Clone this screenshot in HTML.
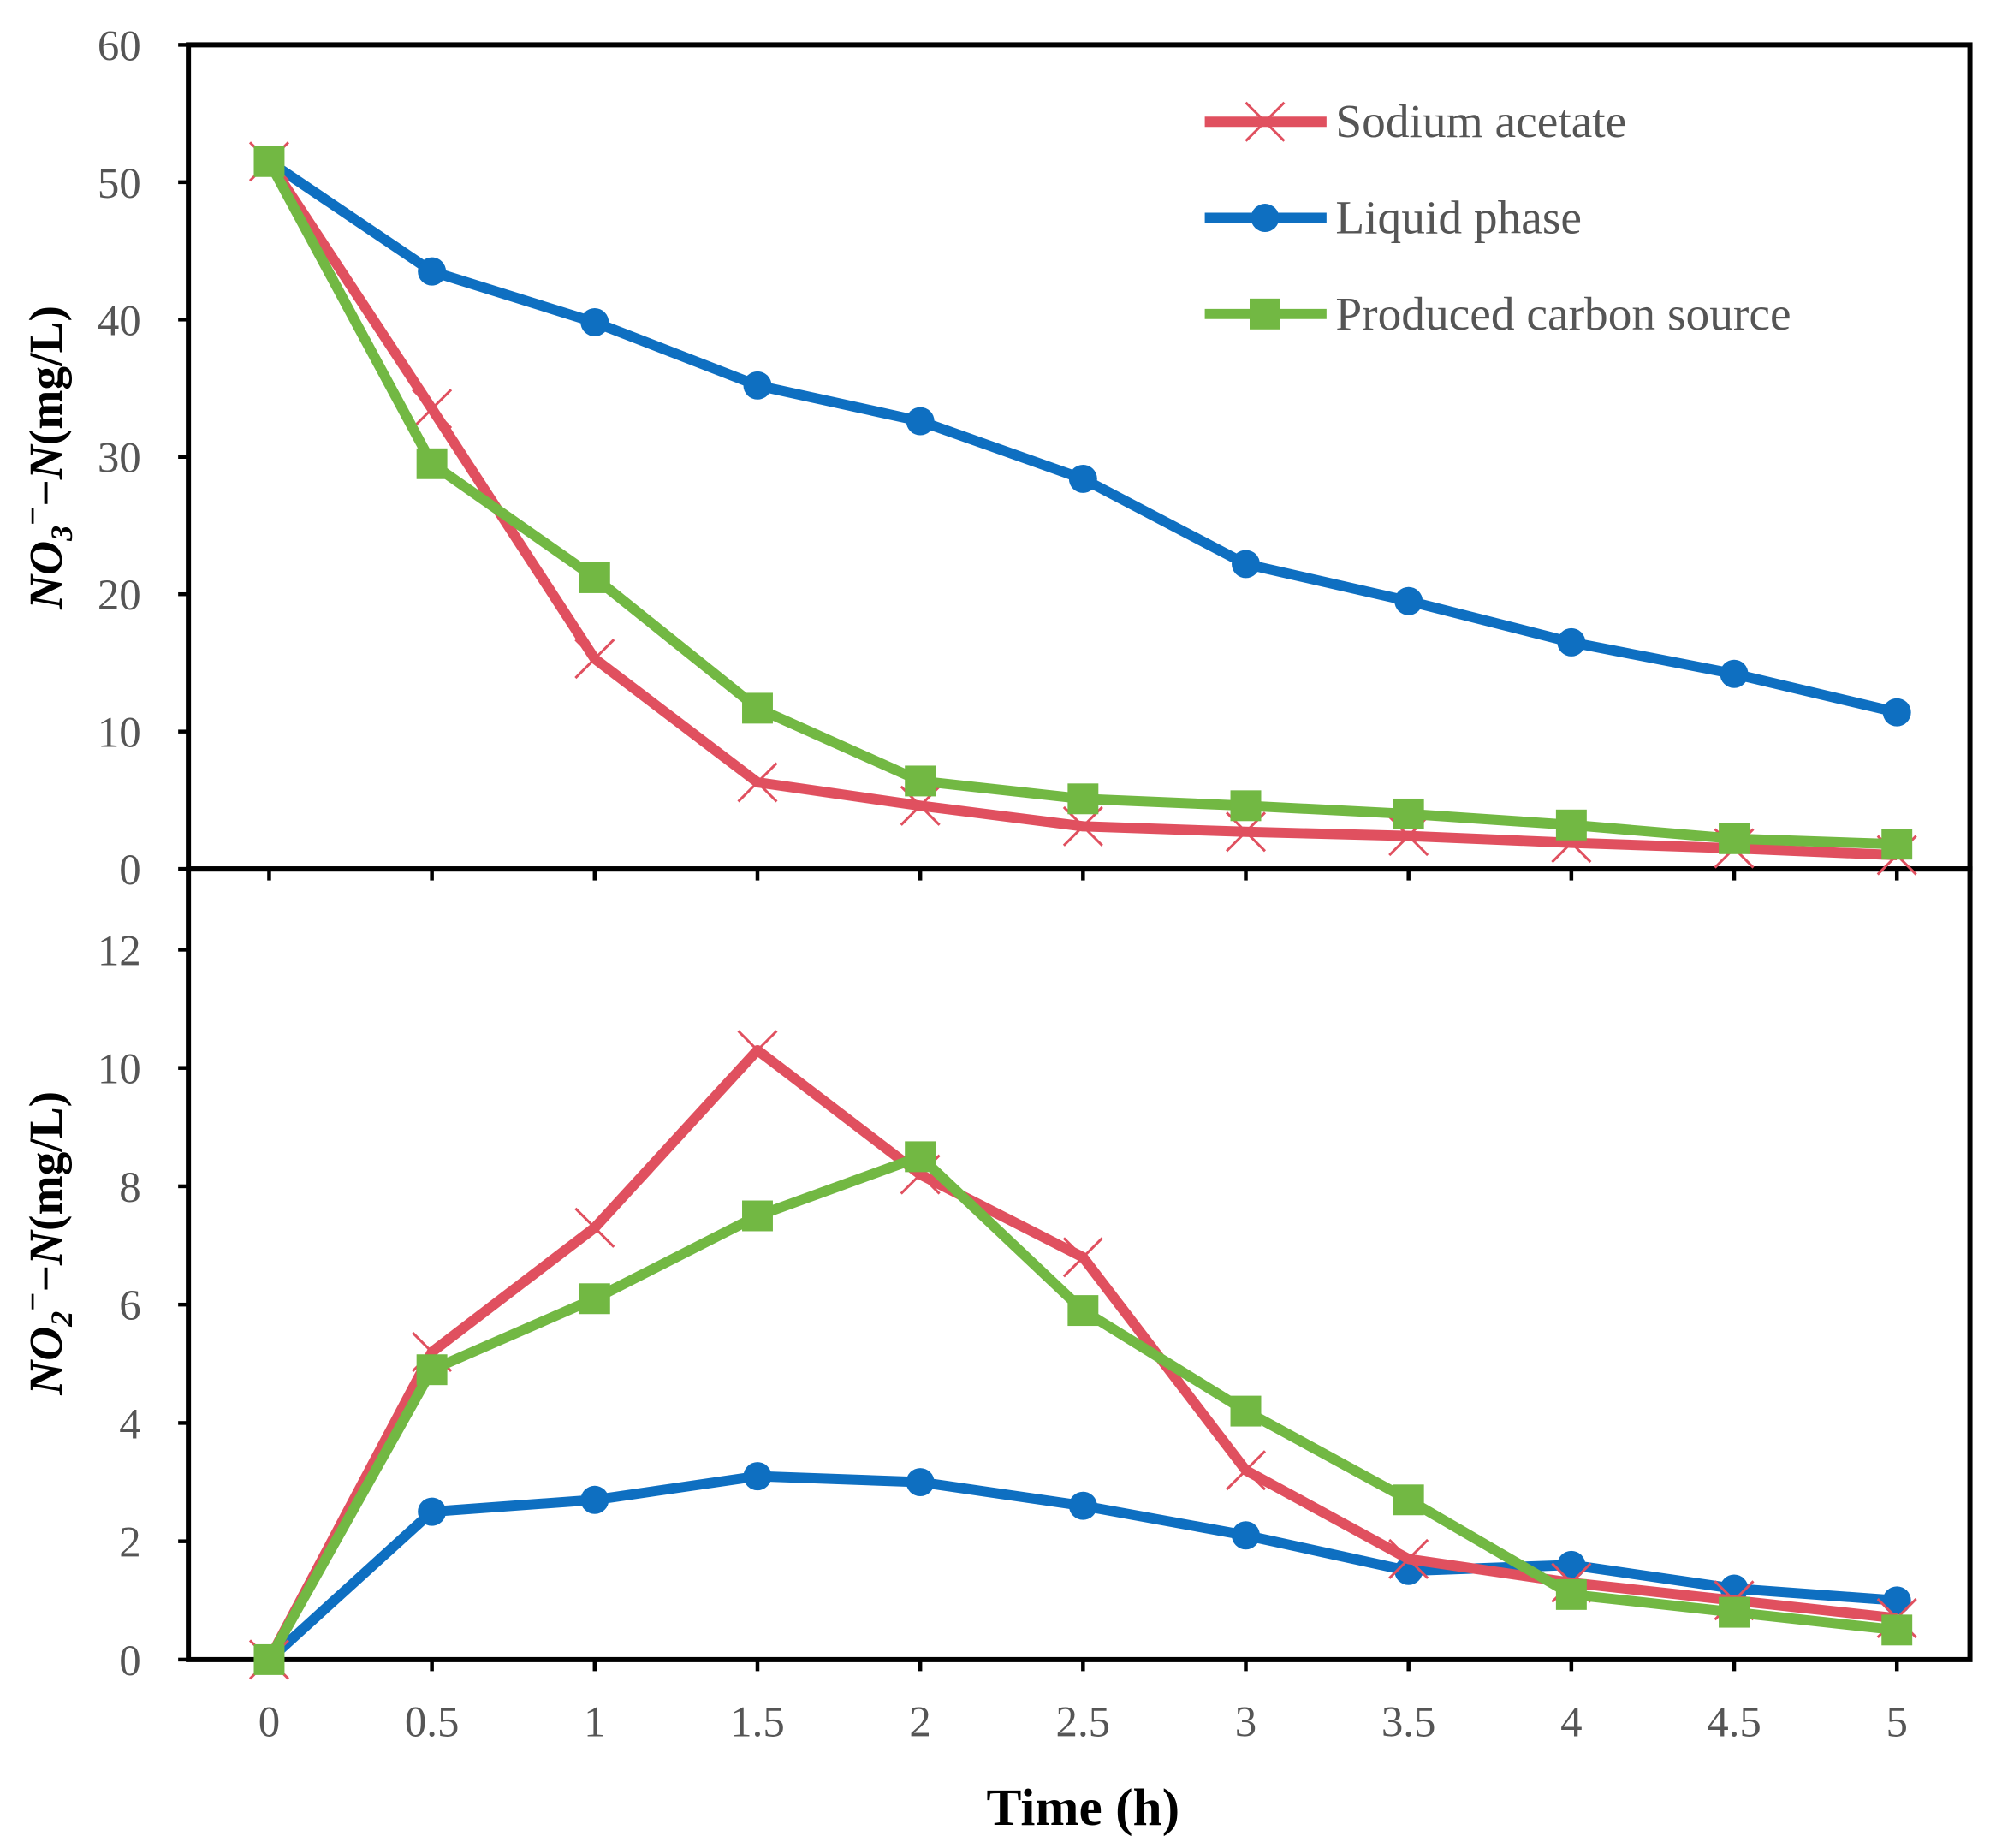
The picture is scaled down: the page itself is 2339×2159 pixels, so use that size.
<!DOCTYPE html>
<html><head><meta charset="utf-8"><style>
html,body{margin:0;padding:0;background:#fff;}
svg{display:block;}
text{font-family:"Liberation Serif",serif;}
</style></head><body>
<svg id="chart" width="2339" height="2159" viewBox="0 0 1562 1442" preserveAspectRatio="none" xmlns="http://www.w3.org/2000/svg"></svg>
<script>
const times=[0,0.5,1,1.5,2,2.5,3,3.5,4,4.5,5];
const xTickLabels=["0","0.5","1","1.5","2","2.5","3","3.5","4","4.5","5"];
const no3Sodium=[51.5,33.5,15.3,6.3,4.6,3.1,2.7,2.4,1.9,1.5,1.0];
const no3Liquid=[51.5,43.5,39.8,35.2,32.6,28.4,22.2,19.5,16.5,14.2,11.4];
const no3Produced=[51.5,29.5,21.2,11.7,6.4,5.1,4.6,4.0,3.2,2.2,1.8];
const no2Sodium=[0,5.2,7.3,10.3,8.2,6.8,3.2,1.7,1.3,1.0,0.7];
const no2Liquid=[0,2.5,2.7,3.1,3.0,2.6,2.1,1.5,1.6,1.2,1.0];
const no2Produced=[0,4.9,6.1,7.5,8.5,5.9,4.2,2.7,1.1,0.8,0.5];
const topTicks=[0,10,20,30,40,50,60];
const bottomTicks=[0,2,4,6,8,10,12];

const NS="http://www.w3.org/2000/svg";
const svg=document.getElementById('chart');
function el(tag,attrs,parent){const e=document.createElementNS(NS,tag);for(const k in attrs)e.setAttribute(k,attrs[k]);(parent||svg).appendChild(e);return e;}
const X=t=>210+t*254;
const Ytop=v=>678-v*(643/60);
const Ybot=v=>1295-v*(554/12);
const RED="#E0505F",BLUE="#0E6FC1",GREEN="#72B843";

function marker(type,x,y,color,g){
  let m;
  if(type==='x'){m=el('path',{d:`M${x-15},${y-15}L${x+15},${y+15}M${x-15},${y+15}L${x+15},${y-15}`,stroke:color,'stroke-width':2,fill:'none'},g);}
  else if(type==='o'){m=el('circle',{cx:x,cy:y,r:11,fill:color},g);}
  else {m=el('rect',{x:x-12,y:y-12,width:24,height:24,fill:color},g);}
  
  
}
function series(vals,Y,color,type,name){
  const g=el('g',{});
  
  
  const pts=vals.map((v,i)=>X(times[i])+','+Y(v)).join(' ');
  el('polyline',{points:pts,fill:'none',stroke:color,'stroke-width':8,'stroke-linejoin':'round'},g);
  vals.forEach((v,i)=>marker(type,X(times[i]),Y(v),color,g));
}
const f1=el('rect',{x:147,y:35,width:1390,height:643,fill:'none',stroke:'#000','stroke-width':4});

const f2=el('rect',{x:147,y:678,width:1390,height:617,fill:'none',stroke:'#000','stroke-width':4});

topTicks.forEach(v=>{const y=Ytop(v);el('line',{x1:139,y1:y,x2:147,y2:y,stroke:'#000','stroke-width':3});
  const t=el('text',{x:110,y:y+12,'text-anchor':'end','font-size':34,fill:'#555'});t.textContent=v;
  });
bottomTicks.forEach(v=>{const y=Ybot(v);el('line',{x1:139,y1:y,x2:147,y2:y,stroke:'#000','stroke-width':3});
  const t=el('text',{x:110,y:y+12,'text-anchor':'end','font-size':34,fill:'#555'});t.textContent=v;
  });
times.forEach((tv,i)=>{const x=X(tv);
  el('line',{x1:x,y1:1295,x2:x,y2:1304,stroke:'#000','stroke-width':3});
  el('line',{x1:x,y1:678,x2:x,y2:687,stroke:'#000','stroke-width':3});
  const t=el('text',{x:x,y:1355,'text-anchor':'middle','font-size':34,fill:'#555'});t.textContent=xTickLabels[i];
  });
series(no3Liquid,Ytop,BLUE,'o','no3-liquid-phase-line');
series(no3Sodium,Ytop,RED,'x','no3-sodium-acetate-line');
series(no3Produced,Ytop,GREEN,'s','no3-produced-carbon-line');
series(no2Liquid,Ybot,BLUE,'o','no2-liquid-phase-line');
series(no2Sodium,Ybot,RED,'x','no2-sodium-acetate-line');
series(no2Produced,Ybot,GREEN,'s','no2-produced-carbon-line');
const legend=[["Sodium acetate",RED,'x',95],["Liquid phase",BLUE,'o',170],["Produced carbon source",GREEN,'s',245]];
legend.forEach(([lab,c,tp,y])=>{const g=el('g',{});
  
  el('line',{x1:940,y1:y,x2:1035,y2:y,stroke:c,'stroke-width':8},g);
  marker(tp,987,y,c,g);
  const t=el('text',{x:1042,y:y+12,'font-size':37,fill:'#555'},g);t.textContent=lab;});
let t=el('text',{x:0,y:0,transform:'translate(48,357) rotate(-90)','text-anchor':'middle','font-size':37,'font-weight':'bold',fill:'#000'});

t.innerHTML='<tspan font-style="italic">NO</tspan><tspan font-style="italic" font-size="24" dy="8">3</tspan><tspan font-size="26" dy="-22">−</tspan><tspan dy="14">−</tspan><tspan font-style="italic">N</tspan>(mg/L)';
t=el('text',{x:0,y:0,transform:'translate(48,970) rotate(-90)','text-anchor':'middle','font-size':37,'font-weight':'bold',fill:'#000'});

t.innerHTML='<tspan font-style="italic">NO</tspan><tspan font-style="italic" font-size="24" dy="8">2</tspan><tspan font-size="26" dy="-22">−</tspan><tspan dy="14">−</tspan><tspan font-style="italic">N</tspan>(mg/L)';
t=el('text',{x:845,y:1424,'text-anchor':'middle','font-size':41,'font-weight':'bold',fill:'#000'});
t.textContent='Time (h)';
</script>
</body></html>
